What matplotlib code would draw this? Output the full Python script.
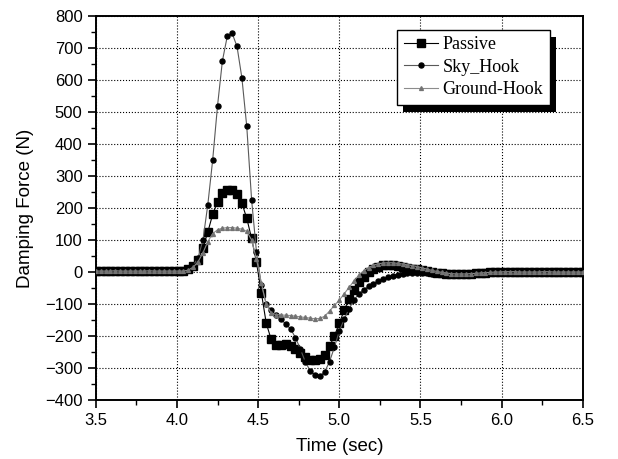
# -----------------------------------------------
# Damping force comparison: Passive / Sky_Hook / Ground-Hook
# -----------------------------------------------

import numpy as np
import matplotlib
matplotlib.use("Agg")
import matplotlib.pyplot as plt
from matplotlib.patches import Rectangle
from matplotlib.ticker import MultipleLocator, FormatStrFormatter

# ------------------------------------------------
# Data (read off the reference, sampled every 0.03 s)
# ------------------------------------------------
time = np.linspace(3.5, 6.5, 101)

passive = [3, 3, 3, 4, 3, 3, 3, 3, 4, 3, 3, 3, 3, 3, 4, 3, 3, 3,
           3, 8, 18, 38, 75, 125, 180, 220, 246, 256, 256, 244, 215, 168, 105, 30,
           -65, -160, -210, -228, -228, -225, -230, -240, -252, -265, -274, -276, -272, -258, -232, -200, -160,
           -120, -85, -55, -32, -14, 0, 10, 17, 21, 22, 22, 20, 17, 14, 11, 8, 5, 2, 0, -2,
           -4, -5, -6, -6, -6, -5, -5, -4, -3, -2, -1, 0, 0, 1, 1, 1, 0, 0, 0, -1, 0, 0, 1, 0, 0, 0, -1, 0, 0, 0]

sky_hook = [3, 3, 4, 3, 3, 2, 3, 4, 3, 3, 3, 2, 3, 3, 4, 3, 3, 3,
            4, 8, 20, 45, 100, 210, 350, 520, 660, 737, 746, 705, 607, 455, 225, 62,
            -40, -100, -120, -133, -148, -162, -178, -205, -240, -280, -308, -322, -326, -312, -280, -235, -185,
            -148, -115, -88, -68, -55, -45, -36, -29, -23, -17, -12, -8, -6, -4, -3, -3, -3, -4, -5, -6,
            -7, -8, -8, -8, -7, -6, -5, -4, -3, -2, -1, 0, 0, 1, 1, 1, 0, 0, -1, -1, 0, 0, 1, 1, 0, 0, -1, 0, 0, 0]

ground_hook = [3, 3, 3, 3, 4, 3, 3, 3, 3, 3, 3, 4, 3, 3, 3, 3, 3, 3,
               3, 6, 15, 32, 60, 95, 120, 132, 137, 139, 139, 137, 134, 127, 100, 40,
               -35, -100, -128, -133, -134, -135, -136, -138, -140, -142, -144, -146, -145, -138, -122, -104, -88,
               -68, -48, -28, -10, 4, 14, 21, 26, 28, 29, 29, 27, 25, 23, 20, 17, 13, 9, 5, 2,
               -1, -3, -5, -6, -6, -6, -5, -4, -3, -2, -1, 0, 0, 1, 1, 1, 0, 0, 0, 0, 0, 1, 1, 0, 0, 0, 0, 0, 0, 0]

# ------------------------------------------------
# Figure
# ------------------------------------------------
plt.rcParams['font.family'] = ['Liberation Sans', 'DejaVu Sans']

fig = plt.figure(figsize=(6.18, 4.59), dpi=100)
ax = fig.add_axes([0.155, 0.1285, 0.788, 0.8365])

ax.plot(time, passive, color='black', lw=0.8, marker='s', ms=5.5,
        mfc='black', mec='black', label='Passive', zorder=3)
ax.plot(time, sky_hook, color='0.35', lw=0.8, marker='o', ms=3.6,
        mfc='black', mec='black', label='Sky_Hook', zorder=4)
ax.plot(time, ground_hook, color='0.55', lw=0.8, marker='^', ms=2.8,
        mfc='0.45', mec='0.45', label='Ground-Hook', zorder=5)

ax.set_xlim(3.5, 6.5)
ax.set_ylim(-400, 800)
ax.xaxis.set_major_locator(MultipleLocator(0.5))
ax.xaxis.set_minor_locator(MultipleLocator(0.25))
ax.yaxis.set_major_locator(MultipleLocator(100))
ax.yaxis.set_minor_locator(MultipleLocator(50))
ax.xaxis.set_major_formatter(FormatStrFormatter('%.1f'))

ax.tick_params(which='major', direction='out', length=6, width=1.2, labelsize=12)
ax.tick_params(which='minor', direction='out', length=3.5, width=1)
for side in ax.spines.values():
    side.set_linewidth(1.4)

ax.grid(True, which='major', linestyle=':', color='black', linewidth=0.8)

ax.set_xlabel("Time (sec)", fontsize=13.5, labelpad=7)
ax.set_ylabel("Damping Force (N)", fontsize=13.5, labelpad=8)

# ------------------------------------------------
# Legend with a solid black drop shadow
# ------------------------------------------------
leg = ax.legend(loc='upper right', bbox_to_anchor=(0.932, 0.9635), borderaxespad=0,
                prop={'family': 'Liberation Serif', 'size': 13},
                frameon=True, fancybox=False, framealpha=1, edgecolor='black',
                handlelength=1.9, handletextpad=0.25, borderpad=0.35, labelspacing=0.3)
leg.get_frame().set_linewidth(1.0)
leg.set_zorder(10)

fig.canvas.draw()
bb = leg.get_window_extent()
shadow = Rectangle((bb.x0 + 6, bb.y0 - 7), bb.width, bb.height, transform=None,
                   facecolor='black', edgecolor='none', zorder=9, clip_on=False)
ax.add_artist(shadow)

fig.savefig("out.png", dpi=100)
